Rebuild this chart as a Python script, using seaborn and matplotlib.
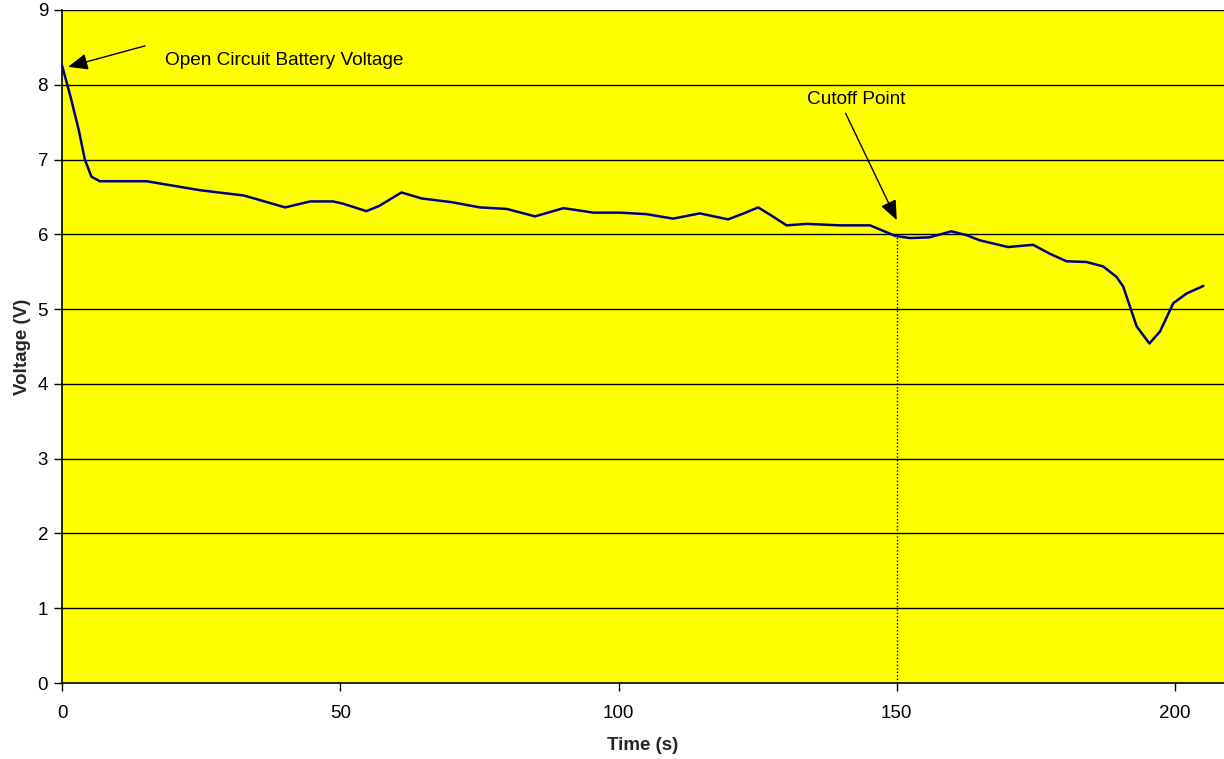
import matplotlib
matplotlib.use("Agg")
import matplotlib.pyplot as plt
import seaborn as sns
import pandas as pd

time_s = [0, 1.5, 3, 4.1, 5.3, 6.8, 10, 15.2, 20, 24.8, 32.6, 35, 40.1, 44.6, 48.7, 50.5,
          54.7, 57, 61, 64.6, 70, 75.1, 79.9, 85, 90.1, 95.5, 100.3, 105, 109.8, 114.6,
          119.7, 122.5, 125.1, 127.5, 130.2, 133.8, 139.8, 145.2, 149.7, 152.4, 155.9,
          159.8, 162.5, 164.9, 170, 174.5, 177.5, 180.5, 184.1, 187.1, 189.5, 190.7,
          193.1, 195.4, 197.3, 199.7, 202.1, 205.1]
voltage = [8.26, 7.85, 7.4, 7.0, 6.77, 6.71, 6.71, 6.71, 6.65, 6.59, 6.52, 6.47, 6.36,
           6.44, 6.44, 6.41, 6.31, 6.38, 6.56, 6.48, 6.43, 6.36, 6.34, 6.24, 6.35, 6.29,
           6.29, 6.27, 6.21, 6.28, 6.20, 6.28, 6.36, 6.25, 6.12, 6.14, 6.12, 6.12, 5.98,
           5.95, 5.96, 6.04, 5.99, 5.92, 5.83, 5.86, 5.74, 5.64, 5.63, 5.57, 5.43, 5.30,
           4.77, 4.54, 4.70, 5.08, 5.21, 5.31]

x_ticks = [0, 50, 100, 150, 200]
y_ticks = list(range(0, 10))
cutoff_time = 150
cutoff_voltage = 5.98

df = pd.DataFrame({"Time (s)": time_s, "Voltage (V)": voltage})

sns.set_theme(style="white")
plt.rcParams["font.family"] = ["Liberation Sans", "DejaVu Sans"]

fig = plt.figure(figsize=(12.24, 7.59), dpi=100)
ax = fig.add_axes([62 / 1224, 1 - 683 / 759, 1 - 62 / 1224, (683 - 10) / 759])
ax.set_facecolor("#FFFF00")

ax.set_xlim(0, 208.8)
ax.set_ylim(0, 9)
ax.set_xticks(x_ticks)
ax.set_yticks(y_ticks)
for y in y_ticks[1:]:
    ax.axhline(y, color="black", lw=1.0, zorder=1)

sns.lineplot(data=df, x="Time (s)", y="Voltage (V)", ax=ax, color="#000080",
             lw=1.8, zorder=3)

ax.plot([cutoff_time, cutoff_time], [0, cutoff_voltage], color="black", lw=1,
        ls=(0, (1, 1.5)), zorder=2)

arrow_style = "-|>,head_length=0.6,head_width=0.25"
ax.annotate("", xy=(1.1, 8.24), xytext=(14.9, 8.52),
            arrowprops=dict(arrowstyle=arrow_style, color="black", lw=1,
                            mutation_scale=20, shrinkA=0, shrinkB=0), zorder=4)
ax.text(18.5, 8.32, "Open Circuit Battery Voltage", fontsize=13.7, va="center",
        ha="left", color="black")

ax.annotate("", xy=(150, 6.19), xytext=(140.8, 7.62),
            arrowprops=dict(arrowstyle=arrow_style, color="black", lw=1,
                            mutation_scale=20, shrinkA=0, shrinkB=0), zorder=4)
ax.text(142.7, 7.8, "Cutoff Point", fontsize=13.7, va="center", ha="center",
        color="black")

for side in ["top", "right"]:
    ax.spines[side].set_visible(False)
for side in ["left", "bottom"]:
    ax.spines[side].set_color("black")
    ax.spines[side].set_linewidth(1.2)

ax.tick_params(axis="both", which="major", direction="out", length=6, width=1,
               color="black", labelsize=13.5, labelcolor="black", bottom=True, left=True)
ax.tick_params(axis="x", pad=10)
ax.tick_params(axis="y", pad=4)

ax.set_xlabel("Time (s)", fontsize=13.5, fontweight="bold", labelpad=11)
ax.set_ylabel("Voltage (V)", fontsize=13.5, fontweight="bold", labelpad=5)

fig.savefig("out.png", dpi=100)
